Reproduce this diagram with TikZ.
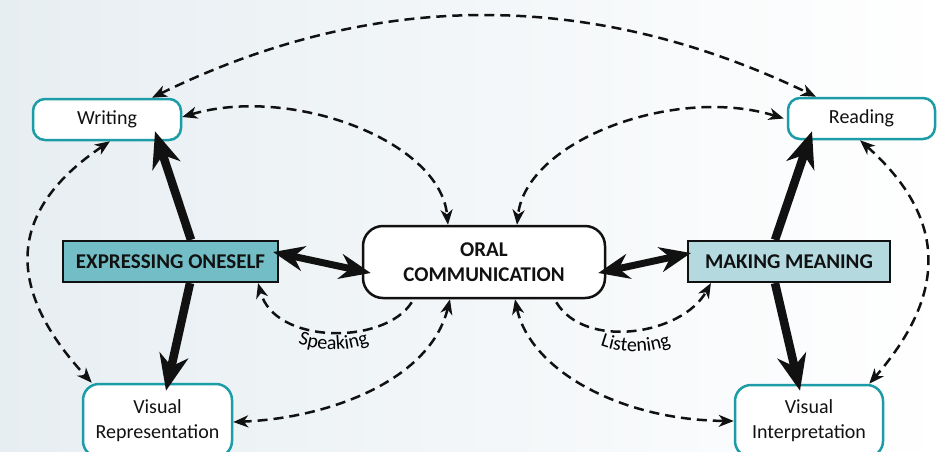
\documentclass[tikz,border=0pt]{standalone}
\usepackage{fontspec}
\setmainfont{Carlito}
\usetikzlibrary{arrows.meta,decorations.text}
\definecolor{teal1}{HTML}{1B9CA6}
\definecolor{expfill}{HTML}{73BEC6}
\definecolor{mmfill}{HTML}{B4DAE0}
\definecolor{bgL}{HTML}{E7EEF2}
\definecolor{ink}{HTML}{111111}
\tikzset{
  lightbox/.style={draw=teal1, line width=2.5pt, rounded corners=12pt, fill=white,
    font=\fontsize{20}{25}\selectfont, text=ink, inner sep=0pt, align=center},
  keybox/.style={draw=ink, line width=2.2pt, font=\bfseries\fontsize{21}{25}\selectfont,
    inner sep=0pt, text=ink},
  oralbox/.style={draw=ink, line width=2.5pt, rounded corners=20pt, fill=white,
    font=\bfseries\fontsize{21}{25}\selectfont, align=center, inner sep=0pt, text=ink},
  bigarrow/.style={line width=8.5pt, draw=ink, -{Stealth[length=36pt,width=29pt,inset=11pt]}},
  duoarrow/.style={line width=7pt, draw=ink,
    {Stealth[length=31pt,width=25pt,inset=10pt]}-{Stealth[length=31pt,width=25pt,inset=10pt]}},
  dasharrow/.style={line width=2.5pt, draw=ink, dash pattern=on 10pt off 6pt,
    -{Stealth[length=15pt,width=12pt,inset=4.5pt]}},
  dashduo/.style={line width=2.5pt, draw=ink, dash pattern=on 10pt off 6pt,
    {Stealth[length=15pt,width=12pt,inset=4.5pt]}-{Stealth[length=15pt,width=12pt,inset=4.5pt]}},
  curvelabel/.style={decorate, decoration={text along path, text align=center,
    text={|\fontsize{20}{24}\selectfont|#1}}},
}
\begin{document}
\begin{tikzpicture}[x=1pt,y=-1pt]
\useasboundingbox (0,0) rectangle (950,451);
\clip (0,0) rectangle (950,451);
\shade[left color=bgL, right color=white] (0,0) rectangle (950,451);

% nodes
\node[lightbox, minimum width=148pt, minimum height=41pt] (W) at (107,119.5) {Writing};
\node[lightbox, minimum width=147pt, minimum height=41pt] (R) at (861.5,118.5) {Reading};
\node[keybox, fill=expfill, minimum width=215pt, minimum height=41pt] (E) at (170.5,261.5) {EXPRESSING ONESELF};
\node[keybox, fill=mmfill, minimum width=202pt, minimum height=41pt] (M) at (789,261.5) {MAKING MEANING};
\node[oralbox, minimum width=242pt, minimum height=72pt] (O) at (484,262) {ORAL\\COMMUNICATION};
\node[lightbox, rounded corners=16pt, minimum width=149pt, minimum height=73pt] (VR) at (157.5,420.5) {Visual\\Representation};
\node[lightbox, rounded corners=16pt, minimum width=148pt, minimum height=72pt] (VI) at (809,421) {Visual\\Interpretation};

% thick arrows
\draw[bigarrow] ([xshift=20.5pt]E.north) -- ([xshift=48pt,yshift=10pt]W.south);
\draw[bigarrow] ([xshift=19.5pt]E.south) -- ([xshift=8.5pt,yshift=-8pt]VR.north);
\draw[bigarrow] ([xshift=-14pt]M.north) -- ([xshift=-49.5pt,yshift=9pt]R.south);
\draw[bigarrow] ([xshift=-14pt]M.south) -- ([xshift=-9pt,yshift=-7pt]VI.north);
\draw[duoarrow] ([xshift=-6pt,yshift=9.5pt]E.east) -- ([xshift=9pt,yshift=-11pt]O.west);
\draw[duoarrow] ([xshift=-8pt,yshift=-11pt]O.east) -- ([xshift=4pt,yshift=8.5pt]M.west);

% dashed arcs
\draw[dashduo] ([xshift=45pt]W.north) .. controls (374,-11) and (592,-11) .. ([xshift=-45.5pt]R.north);
\draw[dashduo] ([yshift=2.5pt]W.east) .. controls (290,85) and (440,140) .. ([xshift=-36pt]O.north);
\draw[dashduo] ([xshift=-3pt]R.west) .. controls (676,85) and (526,140) .. ([xshift=33pt]O.north);
\draw[dashduo] ([xshift=3pt]W.south) .. controls (2,214) and (9,293) .. ([xshift=10pt]VR.north west);
\draw[dashduo] ([xshift=-1.5pt]R.south) .. controls (955,225) and (940,302) .. ([xshift=-15pt]VI.north east);
\draw[dasharrow] ([xshift=50pt,yshift=-3pt]O.south west) .. controls (385,345) and (275,345) .. ([xshift=-21pt]E.south east);
\draw[dasharrow] ([xshift=-50pt,yshift=-3pt]O.south east) .. controls (585,350) and (682,335) .. ([xshift=24pt]M.south west);
\draw[dashduo] ([xshift=-34pt]O.south) .. controls (430,380) and (330,418) .. ([yshift=-1.5pt]VR.east);
\draw[dashduo] ([xshift=31pt]O.south) .. controls (530,370) and (620,420) .. (VI.west);

% curved labels
\path[curvelabel=Speaking] (288,339.3) .. controls (316,353.4) and (351,353.2) .. (379,338.8);
\path[curvelabel=Listening] (590,341.3) .. controls (618,355.4) and (653,355.2) .. (681,340.8);
\end{tikzpicture}
\end{document}
